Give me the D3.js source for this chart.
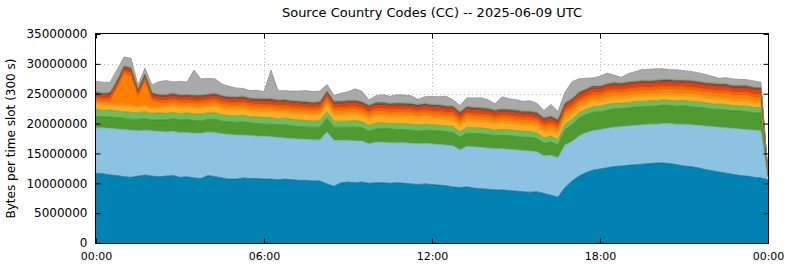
<!DOCTYPE html>
<html>
<head>
<meta charset="utf-8">
<script src="https://cdn.jsdelivr.net/npm/d3@7"></script>
<style>
  body { margin: 0; background: #fff; }
  text { font-family: "DejaVu Sans", sans-serif; fill: #000; }
</style>
</head>
<body>
<script>
// one value per 15 min slot, 00:00 .. 24:00 (97 slots), in millions of bytes
const UNIT = 1e6;
const dayStart = Date.UTC(2025, 5, 9);
const yTicks = [0, 5e6, 10e6, 15e6, 20e6, 25e6, 30e6, 35e6];
const xTickHours = [0, 6, 12, 18, 24];

const darkBlue = [
  11.7, 11.6, 11.4, 11.3, 11.1, 11.0, 11.2, 11.4, 11.2, 11.1,
  11.2, 11.3, 11.0, 11.1, 10.9, 10.8, 11.3, 11.1, 10.9, 10.7,
  10.7, 10.9, 10.8, 10.8, 10.7, 10.7, 10.6, 10.7, 10.6, 10.5,
  10.5, 10.4, 10.4, 9.9, 9.5, 10.1, 10.2, 10.1, 10.2, 10.0,
  10.1, 10.1, 10.0, 10.1, 10.0, 9.9, 9.8, 9.9, 9.8, 9.7,
  9.6, 9.4, 9.3, 9.4, 9.2, 9.1, 9.0, 8.9, 8.9, 8.8,
  8.7, 8.6, 8.5, 8.6, 8.3, 8.0, 7.7, 9.3, 10.4, 11.2,
  11.8, 12.2, 12.4, 12.6, 12.8, 12.9, 13.0, 13.1, 13.2, 13.3,
  13.4, 13.4, 13.3, 13.1, 12.9, 12.8, 12.6, 12.3, 12.1, 11.9,
  11.7, 11.5, 11.3, 11.2, 11.0, 10.9, 10.6
];
const lightBlue = [
  7.6, 7.7, 7.8, 7.8, 7.9, 7.9, 7.6, 7.5, 7.6, 7.6,
  7.4, 7.4, 7.5, 7.4, 7.5, 7.6, 7.3, 7.4, 7.4, 7.5,
  7.4, 7.2, 7.2, 7.1, 7.2, 7.1, 7.1, 6.9, 6.9, 6.9,
  6.9, 6.9, 6.9, 8.7, 7.7, 7.1, 7.0, 7.0, 6.9, 6.6,
  6.8, 6.8, 6.8, 6.7, 6.8, 6.8, 6.8, 6.8, 6.8, 6.8,
  6.8, 6.9, 6.3, 6.8, 6.9, 6.9, 6.9, 6.9, 6.9, 6.9,
  6.9, 6.9, 6.9, 6.7, 6.3, 6.7, 6.6, 7.1, 6.6, 6.7,
  6.7, 6.6, 6.6, 6.6, 6.6, 6.6, 6.6, 6.6, 6.6, 6.6,
  6.5, 6.6, 6.7, 6.8, 7.0, 7.0, 7.1, 7.3, 7.4, 7.5,
  7.6, 7.7, 7.8, 7.8, 7.9, 7.9, 0.4
];
const darkGreen = [
  1.9, 1.8, 1.9, 1.9, 1.9, 1.8, 1.9, 1.9, 1.8, 1.9,
  2.0, 2.1, 2.1, 2.2, 2.1, 2.0, 2.1, 2.2, 2.1, 2.1,
  2.1, 2.2, 2.1, 2.1, 2.0, 2.1, 2.1, 2.2, 2.1, 2.1,
  2.0, 2.1, 2.1, 2.3, 2.2, 2.2, 2.2, 2.3, 2.2, 2.1,
  2.2, 2.2, 2.3, 2.2, 2.2, 2.2, 2.1, 2.2, 2.2, 2.3,
  2.2, 2.2, 2.1, 2.2, 2.2, 2.3, 2.2, 2.2, 2.2, 2.3,
  2.2, 2.2, 2.3, 2.2, 2.1, 2.2, 2.1, 2.6, 2.8, 3.0,
  3.0, 3.1, 3.0, 3.0, 3.1, 3.0, 3.0, 3.1, 3.0, 3.0,
  3.0, 3.1, 3.0, 3.0, 3.1, 3.0, 3.0, 3.0, 2.9, 3.0,
  3.0, 2.9, 3.0, 3.0, 2.9, 3.0, 0.2
];
const lightGreen = [
  1.2, 1.1, 1.2, 1.1, 1.1, 1.2, 1.1, 1.2, 1.1, 1.2,
  1.1, 1.1, 1.0, 1.1, 1.1, 1.2, 1.1, 1.1, 1.1, 1.0,
  1.1, 1.1, 1.0, 1.1, 1.1, 1.1, 1.0, 1.1, 1.1, 1.1,
  1.1, 1.0, 1.1, 1.1, 1.0, 1.0, 1.0, 1.1, 1.0, 1.0,
  1.0, 1.0, 0.9, 1.0, 1.0, 1.0, 1.1, 1.0, 1.0, 0.9,
  1.0, 1.0, 0.9, 1.0, 1.0, 1.0, 1.0, 0.9, 1.0, 1.0,
  1.0, 1.0, 1.0, 0.9, 0.9, 1.0, 0.9, 0.9, 0.9, 0.9,
  0.9, 0.9, 0.9, 1.0, 0.9, 0.9, 0.9, 0.9, 0.9, 0.9,
  0.9, 0.9, 0.9, 0.9, 0.9, 0.9, 1.0, 0.9, 0.9, 0.9,
  0.9, 0.9, 0.9, 0.9, 0.9, 0.9, 0.1
];
const yellow = [
  0.9, 0.9, 0.8, 0.9, 1.0, 1.0, 0.9, 0.9, 0.8, 0.8,
  1.0, 1.0, 1.0, 0.9, 1.0, 1.0, 1.0, 1.1, 1.0, 1.0,
  1.0, 1.0, 1.0, 1.0, 1.0, 1.0, 1.0, 0.9, 1.0, 1.0,
  1.0, 1.0, 1.0, 1.1, 1.0, 1.0, 1.1, 1.0, 1.0, 1.0,
  1.1, 1.1, 1.0, 1.1, 1.0, 1.1, 1.0, 1.1, 1.0, 1.1,
  1.0, 1.1, 1.0, 1.1, 1.0, 1.0, 1.1, 1.0, 1.1, 1.0,
  1.1, 1.0, 1.0, 1.1, 1.0, 1.0, 1.0, 1.0, 0.9, 0.9,
  0.8, 0.9, 0.8, 0.9, 0.9, 0.8, 0.9, 0.8, 0.9, 0.8,
  0.9, 0.8, 0.9, 0.9, 0.8, 0.9, 0.8, 0.8, 0.9, 0.8,
  0.9, 0.8, 0.8, 0.9, 0.8, 0.8, 0.1
];
const lightOrange = [
  0.3, 0.3, 0.3, 0.3, 0.3, 0.3, 0.3, 0.3, 0.3, 0.3,
  0.35, 0.35, 0.4, 0.35, 0.35, 0.35, 0.3, 0.35, 0.35, 0.4,
  0.35, 0.35, 0.35, 0.3, 0.35, 0.35, 0.35, 0.4, 0.35, 0.35,
  0.35, 0.35, 0.35, 0.4, 0.4, 0.4, 0.4, 0.45, 0.4, 0.4,
  0.4, 0.4, 0.4, 0.4, 0.45, 0.4, 0.4, 0.4, 0.4, 0.4,
  0.4, 0.4, 0.4, 0.4, 0.45, 0.4, 0.4, 0.4, 0.4, 0.4,
  0.4, 0.4, 0.4, 0.4, 0.4, 0.4, 0.4, 0.4, 0.4, 0.4,
  0.4, 0.45, 0.4, 0.4, 0.4, 0.4, 0.4, 0.4, 0.45, 0.4,
  0.4, 0.4, 0.4, 0.4, 0.4, 0.45, 0.4, 0.4, 0.4, 0.4,
  0.4, 0.4, 0.4, 0.4, 0.4, 0.4, 0.05
];
const orange = [
  0.35, 0.35, 0.4, 2.5, 5.0, 4.8, 1.4, 3.8, 1.0, 0.6,
  0.4, 0.4, 0.4, 0.4, 0.4, 0.4, 0.4, 0.4, 0.4, 0.4,
  0.4, 0.4, 0.4, 0.4, 0.4, 0.4, 0.4, 0.4, 0.4, 0.4,
  0.4, 0.4, 0.4, 0.45, 0.45, 0.45, 0.45, 0.45, 0.45, 0.45,
  0.45, 0.45, 0.45, 0.45, 0.45, 0.45, 0.45, 0.45, 0.45, 0.45,
  0.45, 0.45, 0.45, 0.45, 0.45, 0.45, 0.45, 0.45, 0.45, 0.45,
  0.45, 0.45, 0.45, 0.45, 0.45, 0.45, 0.45, 0.55, 0.55, 0.55,
  0.55, 0.55, 0.55, 0.55, 0.55, 0.55, 0.55, 0.55, 0.55, 0.55,
  0.55, 0.55, 0.55, 0.55, 0.55, 0.55, 0.55, 0.55, 0.55, 0.55,
  0.55, 0.55, 0.55, 0.55, 0.55, 0.55, 0.05
];
const darkOrange = [
  0.45, 0.45, 0.45, 0.45, 0.45, 0.45, 0.45, 0.45, 0.45, 0.45,
  0.45, 0.45, 0.45, 0.45, 0.45, 0.45, 0.45, 0.45, 0.45, 0.45,
  0.45, 0.45, 0.45, 0.45, 0.45, 0.45, 0.45, 0.45, 0.45, 0.45,
  0.45, 0.45, 0.45, 0.45, 0.45, 0.45, 0.45, 0.45, 0.45, 0.45,
  0.45, 0.45, 0.45, 0.45, 0.45, 0.45, 0.45, 0.45, 0.45, 0.45,
  0.45, 0.45, 0.45, 0.45, 0.45, 0.45, 0.45, 0.45, 0.45, 0.45,
  0.45, 0.45, 0.45, 0.45, 0.45, 0.45, 0.45, 0.5, 0.5, 0.5,
  0.5, 0.5, 0.5, 0.5, 0.5, 0.5, 0.5, 0.5, 0.5, 0.5,
  0.5, 0.5, 0.5, 0.5, 0.5, 0.5, 0.5, 0.5, 0.5, 0.5,
  0.5, 0.5, 0.5, 0.5, 0.5, 0.5, 0.05
];
const red = [
  0.45, 0.45, 0.45, 0.45, 0.45, 0.45, 0.45, 0.45, 0.45, 0.45,
  0.5, 0.5, 0.5, 0.5, 0.5, 0.5, 0.5, 0.5, 0.5, 0.5,
  0.5, 0.5, 0.5, 0.5, 0.5, 0.5, 0.5, 0.5, 0.5, 0.5,
  0.5, 0.5, 0.5, 0.55, 0.55, 0.55, 0.55, 0.55, 0.55, 0.55,
  0.55, 0.55, 0.55, 0.55, 0.55, 0.55, 0.55, 0.55, 0.55, 0.55,
  0.55, 0.55, 0.55, 0.55, 0.55, 0.55, 0.55, 0.55, 0.55, 0.55,
  0.55, 0.55, 0.55, 0.55, 0.55, 0.55, 0.55, 0.6, 0.6, 0.6,
  0.6, 0.6, 0.6, 0.6, 0.6, 0.6, 0.6, 0.6, 0.6, 0.6,
  0.6, 0.6, 0.6, 0.6, 0.6, 0.6, 0.6, 0.6, 0.6, 0.6,
  0.6, 0.6, 0.6, 0.6, 0.6, 0.6, 0.05
];
const darkRed = [
  0.25, 0.25, 0.25, 0.25, 0.25, 0.25, 0.25, 0.25, 0.25, 0.25,
  0.25, 0.25, 0.25, 0.25, 0.25, 0.25, 0.25, 0.25, 0.25, 0.25,
  0.25, 0.25, 0.25, 0.25, 0.25, 0.25, 0.25, 0.25, 0.25, 0.25,
  0.25, 0.25, 0.25, 0.25, 0.25, 0.25, 0.25, 0.25, 0.25, 0.25,
  0.25, 0.25, 0.25, 0.25, 0.25, 0.25, 0.25, 0.25, 0.25, 0.25,
  0.25, 0.25, 0.25, 0.25, 0.25, 0.25, 0.25, 0.25, 0.25, 0.25,
  0.25, 0.25, 0.25, 0.25, 0.25, 0.25, 0.25, 0.3, 0.3, 0.3,
  0.3, 0.3, 0.3, 0.3, 0.3, 0.3, 0.3, 0.3, 0.3, 0.3,
  0.3, 0.3, 0.3, 0.3, 0.3, 0.3, 0.3, 0.3, 0.3, 0.3,
  0.3, 0.3, 0.3, 0.3, 0.3, 0.3, 0
];
const blue = [
  0.15, 0.15, 0.15, 0.15, 0.15, 0.15, 0.15, 0.15, 0.15, 0.15,
  0.15, 0.15, 0.15, 0.15, 0.15, 0.15, 0.15, 0.15, 0.15, 0.15,
  0.15, 0.15, 0.15, 0.15, 0.15, 0.15, 0.15, 0.15, 0.15, 0.15,
  0.15, 0.15, 0.15, 0.2, 0.2, 0.2, 0.2, 0.2, 0.2, 0.2,
  0.2, 0.2, 0.2, 0.2, 0.2, 0.2, 0.2, 0.2, 0.2, 0.2,
  0.2, 0.2, 0.2, 0.2, 0.2, 0.2, 0.2, 0.2, 0.2, 0.2,
  0.2, 0.2, 0.2, 0.2, 0.2, 0.2, 0.2, 0.15, 0.15, 0.15,
  0.15, 0.15, 0.15, 0.15, 0.15, 0.15, 0.15, 0.15, 0.15, 0.15,
  0.15, 0.15, 0.15, 0.15, 0.15, 0.15, 0.15, 0.15, 0.15, 0.15,
  0.15, 0.15, 0.15, 0.15, 0.15, 0.15, 0
];
const green = [
  0.12, 0.12, 0.12, 0.12, 0.12, 0.12, 0.12, 0.12, 0.12, 0.12,
  0.12, 0.12, 0.12, 0.12, 0.12, 0.12, 0.12, 0.12, 0.12, 0.12,
  0.12, 0.12, 0.12, 0.12, 0.12, 0.12, 0.12, 0.12, 0.12, 0.12,
  0.12, 0.12, 0.12, 0.15, 0.15, 0.15, 0.15, 0.15, 0.15, 0.15,
  0.15, 0.15, 0.15, 0.15, 0.15, 0.15, 0.15, 0.15, 0.15, 0.15,
  0.15, 0.15, 0.15, 0.15, 0.15, 0.15, 0.15, 0.15, 0.15, 0.15,
  0.15, 0.15, 0.15, 0.15, 0.15, 0.15, 0.15, 0.15, 0.15, 0.15,
  0.15, 0.15, 0.15, 0.15, 0.15, 0.15, 0.15, 0.15, 0.15, 0.15,
  0.15, 0.15, 0.15, 0.15, 0.15, 0.15, 0.15, 0.15, 0.15, 0.15,
  0.15, 0.15, 0.15, 0.15, 0.15, 0.15, 0
];
const gray = [
  1.74, 1.74, 1.67, 1.80, 1.41, 1.54, 0.69, 0.87, 1.26, 2.09,
  2.28, 1.84, 2.21, 2.04, 4.15, 2.64, 2.61, 2.38, 1.91, 1.67,
  1.44, 1.27, 1.20, 1.30, 1.13, 4.75, 1.50, 1.43, 1.53, 1.63,
  1.80, 1.73, 1.73, 0.99, 0.88, 1.22, 1.39, 1.82, 1.65, 0.81,
  1.02, 1.18, 1.12, 1.28, 1.28, 1.22, 0.81, 1.05, 1.32, 1.25,
  1.52, 0.95, 0.98, 1.38, 1.48, 1.58, 1.35, 0.95, 1.95, 1.71,
  1.65, 1.58, 1.68, 1.45, 1.14, 1.88, 1.27, 1.72, 2.76, 2.16,
  1.73, 1.26, 1.57, 1.70, 1.17, 0.90, 1.30, 1.54, 1.77, 1.84,
  1.84, 1.74, 1.57, 1.67, 1.50, 1.44, 1.37, 1.30, 1.07, 0.83,
  0.93, 1.03, 0.96, 0.90, 1.00, 0.76, 0
];

// bottom to top
const layers = [
  { key: "darkBlue", values: darkBlue, color: "#0082b3" },
  { key: "lightBlue", values: lightBlue, color: "#8dc3e2" },
  { key: "darkGreen", values: darkGreen, color: "#4f9b30" },
  { key: "lightGreen", values: lightGreen, color: "#6cbd5a" },
  { key: "yellow", values: yellow, color: "#ffad20" },
  { key: "lightOrange", values: lightOrange, color: "#ff9810" },
  { key: "orange", values: orange, color: "#ff8000" },
  { key: "darkOrange", values: darkOrange, color: "#f76300" },
  { key: "red", values: red, color: "#e4420c" },
  { key: "darkRed", values: darkRed, color: "#c8331a" },
  { key: "blue", values: blue, color: "#3d5fa6" },
  { key: "green", values: green, color: "#8fc63d" },
  { key: "gray", values: gray, color: "#a9a9a9" }
];

const width = 790, height = 267;
const margin = { left: 96, right: 22, top: 34, bottom: 24 };

const rows = darkBlue.map((d, i) => {
  const r = { t: new Date(dayStart + i * 15 * 60 * 1000) };
  layers.forEach(l => { r[l.key] = l.values[i] * UNIT; });
  return r;
});

const x = d3.scaleUtc()
  .domain([new Date(dayStart), new Date(dayStart + 24 * 3600 * 1000)])
  .range([margin.left, width - margin.right]);
const y = d3.scaleLinear()
  .domain([0, 35e6])
  .range([height - margin.bottom, margin.top]);

const svg = d3.select("body").append("svg")
  .attr("width", width)
  .attr("height", height);

const xTicks = xTickHours.map(h => new Date(dayStart + h * 3600 * 1000));

// dotted grid, under the data
const grid = svg.append("g").attr("stroke", "#b4b4b4").attr("stroke-dasharray", "1,3");
grid.selectAll(".hg").data(yTicks.slice(1, -1)).enter().append("line")
  .attr("x1", margin.left).attr("x2", width - margin.right)
  .attr("y1", d => Math.round(y(d)) + 0.5).attr("y2", d => Math.round(y(d)) + 0.5);
grid.selectAll(".vg").data(xTicks.slice(1, -1)).enter().append("line")
  .attr("y1", margin.top).attr("y2", y(0))
  .attr("x1", d => Math.round(x(d)) + 0.5).attr("x2", d => Math.round(x(d)) + 0.5);

const stack = d3.stack().keys(layers.map(l => l.key));
const series = stack(rows);

const area = d3.area()
  .x(d => x(d.data.t))
  .y0(d => y(d[0]))
  .y1(d => y(d[1]));
const topLine = d3.line()
  .x(d => x(d.data.t))
  .y(d => y(d[1]));

svg.append("g").selectAll("path")
  .data(series).enter()
  .append("path")
  .attr("d", area)
  .attr("fill", (d, i) => layers[i].color);

svg.append("g").selectAll("path")
  .data(series).enter()
  .append("path")
  .attr("d", topLine)
  .attr("fill", "none")
  .attr("stroke-width", 0.7)
  .attr("stroke", (d, i) => d3.color(layers[i].color).darker(0.5));

// frame and inward ticks
const plotW = width - margin.right - margin.left;
svg.append("rect")
  .attr("x", margin.left - 0.5).attr("y", margin.top - 0.5)
  .attr("width", plotW + 1).attr("height", y(0) - margin.top + 1)
  .attr("fill", "none").attr("stroke", "#000");

const yAxis = svg.append("g")
  .attr("transform", `translate(${margin.left - 0.5},0)`)
  .call(d3.axisLeft(y).tickValues(yTicks).tickSize(-5).tickPadding(8).tickFormat(d3.format("d")));
const yAxisR = svg.append("g")
  .attr("transform", `translate(${width - margin.right + 0.5},0)`)
  .call(d3.axisRight(y).tickValues(yTicks).tickSize(-5).tickFormat(""));
const xAxis = svg.append("g")
  .attr("transform", `translate(0,${y(0) + 0.5})`)
  .call(d3.axisBottom(x).tickValues(xTicks).tickSize(-5).tickPadding(9).tickFormat(d3.utcFormat("%H:%M")));
const xAxisT = svg.append("g")
  .attr("transform", `translate(0,${margin.top - 0.5})`)
  .call(d3.axisTop(x).tickValues(xTicks).tickSize(-5).tickFormat(""));

[yAxis, yAxisR, xAxis, xAxisT].forEach(g => {
  g.select(".domain").remove();
  g.selectAll("text").attr("font-family", "DejaVu Sans, sans-serif");
});
yAxis.selectAll("text").attr("font-size", 12);
xAxis.selectAll("text").attr("font-size", 11);

svg.append("text")
  .attr("x", 432).attr("y", 17)
  .attr("text-anchor", "middle")
  .attr("font-size", 13)
  .text("Source Country Codes (CC) -- 2025-06-09 UTC");

svg.append("text")
  .attr("transform", `translate(15,${(margin.top + y(0)) / 2}) rotate(-90)`)
  .attr("text-anchor", "middle")
  .attr("font-size", 12)
  .text("Bytes per time slot (300 s)");
</script>
</body>
</html>
